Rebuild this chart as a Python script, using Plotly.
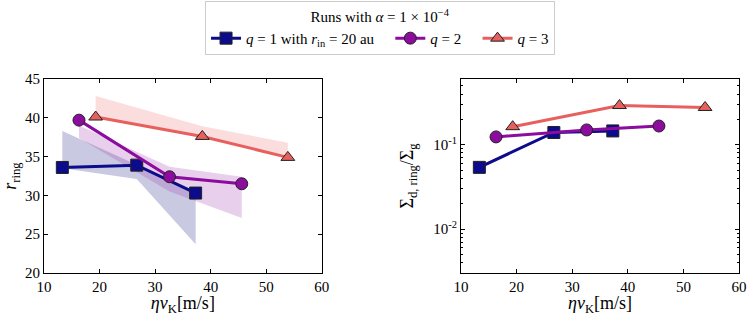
import plotly.graph_objects as go

# ---- data ----
x_q1 = [13.3, 26.7, 37.3]
r_q1 = [33.6, 33.9, 30.3]
r_q1_hi = [38.3, 34.0, 30.5]
r_q1_lo = [33.5, 32.1, 23.7]
s_q1 = [0.054, 0.140, 0.146]

x_q2 = [16.3, 32.6, 45.6]
r_q2 = [39.7, 32.4, 31.5]
r_q2_hi = [39.0, 33.7, 32.4]
r_q2_lo = [37.4, 30.5, 27.1]
s_q2 = [0.124, 0.150, 0.167]

x_q3 = [19.3, 38.5, 53.9]
r_q3 = [40.1, 37.6, 34.9]
r_q3_hi = [42.8, 38.9, 36.8]
r_q3_lo = [40.1, 37.6, 35.1]
s_q3 = [0.164, 0.292, 0.277]

names = ["<i>q</i> = 1 with <i>r</i><sub>in</sub> = 20 au&nbsp;&nbsp;&nbsp;",
         "<i>q</i> = 2&nbsp;&nbsp;&nbsp;", "<i>q</i> = 3"]
colors = ["#0b0b8c", "#8c0c9e", "#e8605e"]
bands = ["rgba(40,40,140,0.25)", "rgba(150,40,170,0.22)", "rgba(240,120,120,0.25)"]
symbols = ["square", "circle", "triangle-up"]
sizes = [12, 12, 12]

FONT = "Liberation Serif"

fig = go.Figure()

series = [
    (x_q1, r_q1, r_q1_hi, r_q1_lo, s_q1),
    (x_q2, r_q2, r_q2_hi, r_q2_lo, s_q2),
    (x_q3, r_q3, r_q3_hi, r_q3_lo, s_q3),
]

for i, (x, r, hi, lo, s) in enumerate(series):
    fig.add_trace(go.Scatter(
        x=x + x[::-1], y=hi + lo[::-1], fill="toself", fillcolor=bands[i],
        line=dict(width=0), mode="lines", showlegend=False, hoverinfo="skip",
        xaxis="x", yaxis="y"))

for i, (x, r, hi, lo, s) in enumerate(series):
    fig.add_trace(go.Scatter(
        x=x, y=r, mode="lines+markers", name=names[i],
        line=dict(color=colors[i], width=3),
        marker=dict(symbol=symbols[i], size=sizes[i], color=colors[i],
                    line=dict(color="#222222", width=1)),
        xaxis="x", yaxis="y"))
    fig.add_trace(go.Scatter(
        x=x, y=s, mode="lines+markers", showlegend=False,
        line=dict(color=colors[i], width=3),
        marker=dict(symbol=symbols[i], size=sizes[i], color=colors[i],
                    line=dict(color="#222222", width=1)),
        xaxis="x2", yaxis="y2"))

axis_common = dict(showline=True, linecolor="black", linewidth=1, mirror="ticks",
                   ticks="inside", ticklen=4, tickcolor="black", showgrid=False,
                   zeroline=False, tickfont=dict(family=FONT, size=15, color="black"))

fig.update_layout(
    width=747, height=316,
    margin=dict(l=44, r=8, t=79, b=43, autoexpand=False),
    paper_bgcolor="white", plot_bgcolor="white",
    font=dict(family=FONT, size=15, color="black"),
    xaxis=dict(domain=[0, 0.3996], range=[10, 60], dtick=10,
               title=dict(text="<i>ηv</i><sub>K</sub>[m/s]", standoff=2), **axis_common),
    yaxis=dict(domain=[0, 1], range=[20, 45], dtick=5,
               title=dict(text="<i>r</i><sub>ring</sub>", standoff=6), **axis_common),
    xaxis2=dict(domain=[0.6, 1.0], range=[10, 60], dtick=10, anchor="y2",
                title=dict(text="<i>ηv</i><sub>K</sub>[m/s]", standoff=2), **axis_common),
    yaxis2=dict(domain=[0, 1], type="log", range=[-2.52, -0.22], anchor="x2",
                tickvals=[0.01, 0.1], ticktext=["10<sup>-2</sup>", "10<sup>-1</sup>"],
                minor=dict(ticks="inside", ticklen=2, tickcolor="black",
                           tickvals=[0.004, 0.005, 0.006, 0.007, 0.008, 0.009,
                                     0.02, 0.03, 0.04, 0.05, 0.06, 0.07, 0.08, 0.09,
                                     0.2, 0.3, 0.4, 0.5]),
                title=dict(text="Σ<sub>d, ring</sub>/Σ<sub>g</sub>", standoff=14), **axis_common),
    legend=dict(orientation="h", x=0.4835, xanchor="center", y=1.40, yanchor="top",
                bordercolor="#cccccc", borderwidth=1, bgcolor="white",
                font=dict(family=FONT, size=15),
                title=dict(text="Runs with <i>α</i> = 1 × 10<sup>−4</sup>", side="top center",
                           font=dict(family=FONT, size=15)),
                itemwidth=30, tracegroupgap=0),
)

fig.write_html("out.html", config={"displayModeBar": False},
               post_script="document.body.style.margin='0';document.body.style.overflow='hidden';")
